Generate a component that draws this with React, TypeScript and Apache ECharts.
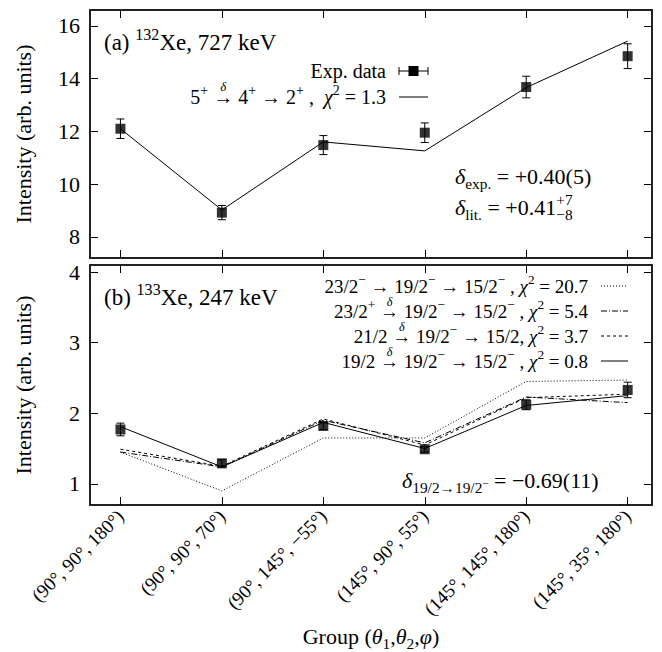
import React, { useEffect, useRef } from 'react';
import * as echarts from 'echarts';

// ---------- data ----------
const groups = ['(90°, 90°, 180°)', '(90°, 90°, 70°)', '(90°, 145°, −55°)', '(145°, 90°, 55°)', '(145°, 145°, 180°)', '(145°, 35°, 180°)'];
const groupIdx = [0, 1, 2, 3, 4, 5];

const xe132Exp = [12.1, 8.92, 11.48, 11.95, 13.68, 14.85];
const xe132Err = [0.37, 0.27, 0.36, 0.37, 0.41, 0.47];
const xe132Fit = [12.1, 9.02, 11.6, 11.26, 13.66, 15.42];

const xe133Exp = [1.77, 1.29, 1.82, 1.49, 2.12, 2.33];
const xe133Err = [0.09, 0.05, 0.05, 0.04, 0.07, 0.11];
const fit207 = [1.45, 0.9, 1.65, 1.65, 2.45, 2.47];
const fit54 = [1.45, 1.24, 1.9, 1.58, 2.23, 2.15];
const fit37 = [1.49, 1.25, 1.92, 1.55, 2.22, 2.27];
const fit08 = [1.81, 1.24, 1.87, 1.5, 2.11, 2.25];
const chi2Bottom = ['20.7', '5.4', '3.7', '0.8'];
const chi2Top = '1.3';

const ticksTop = [8, 10, 12, 14, 16];
const ticksBottom = [1, 2, 3, 4];

const FF = 'Liberation Serif';

// ---------- text helpers ----------
const NB = (s: string) => s.replace(/ /g, '\u00a0');
let _ctx: CanvasRenderingContext2D | null = null;
function tw(t: string, size: number, italic: boolean) {
  if (!_ctx) _ctx = document.createElement('canvas').getContext('2d');
  _ctx!.font = `${italic ? 'italic ' : ''}${size}px Liberation Serif`;
  return _ctx!.measureText(NB(t)).width;
}
type Seg = { t?: string; s?: number; it?: boolean; r?: number; delta?: boolean; stack?: [string, string] };
const n = (t: string): Seg => ({ t });
const it = (t: string): Seg => ({ t, it: true });
const sup = (t: string): Seg => ({ t, s: 0.7, r: 0.42 });
const sub = (t: string): Seg => ({ t, s: 0.7, r: -0.25 });
const arrD: Seg = { t: '→', delta: true };
const arr: Seg = { t: '→' };

function txt(t: string, x: number, y: number, size: number, italic: boolean, align = 'left') {
  return {
    type: 'text', x, y, silent: true,
    style: { text: NB(t), fontSize: size, fontFamily: FF, fontStyle: italic ? 'italic' : 'normal', fill: '#000', textAlign: align, textVerticalAlign: 'middle' },
  };
}
function richLine(segs: Seg[], x: number, cy: number, base: number, align: 'left' | 'right' | 'center') {
  const baseline = cy + 0.34 * base;
  const items = segs.map((sg) => {
    const size = base * (sg.s ?? 1);
    const w = sg.stack ? Math.max(tw(sg.stack[0], size, false), tw(sg.stack[1], size, false)) : tw(sg.t!, size, !!sg.it);
    return { ...sg, size, w };
  });
  const total = items.reduce((a, b) => a + b.w, 0);
  let cur = align === 'right' ? x - total : align === 'center' ? x - total / 2 : x;
  const els: any[] = [];
  for (const item of items) {
    if (item.stack) {
      els.push(txt(item.stack[0], cur, baseline - 0.45 * base - 0.34 * item.size, item.size, false));
      els.push(txt(item.stack[1], cur, baseline + 0.25 * base - 0.34 * item.size, item.size, false));
    } else {
      const yc = baseline - (item.r ?? 0) * base - 0.34 * item.size;
      els.push(txt(item.t!, cur, yc, item.size, !!item.it));
      if (item.delta) els.push(txt('δ', cur + item.w / 2, baseline - 0.84 * base, base * 0.64, true, 'center'));
    }
    cur += item.w;
  }
  return els;
}
function hline(x1: number, x2: number, y: number, dash?: number[]) {
  return { type: 'line', silent: true, shape: { x1, y1: y, x2, y2: y }, style: { stroke: '#000', lineWidth: 1, lineDash: dash } };
}

// ---------- layout ----------
const GL = 90, GR = 662 - 652;
const G1 = { top: 10, h: 248 };
const G2 = { top: 265, h: 240 };
const XMIN = -0.3, XMAX = 5.24;
const AX = { color: '#222', width: 2 };

function xAxis(grid: number, pos: 'top' | 'bottom', labels: boolean) {
  return {
    type: 'value', gridIndex: grid, position: pos, min: XMIN, max: XMAX,
    axisLine: { show: true, onZero: false, lineStyle: AX },
    axisTick: { show: true, inside: true, length: 8, customValues: groupIdx, lineStyle: { color: '#000', width: 1 } },
    axisLabel: labels
      ? { show: true, customValues: groupIdx, formatter: (v: number) => groups[Math.round(v)], rotate: 45, fontSize: 19, fontFamily: FF, color: '#000', margin: 8 }
      : { show: false },
    splitLine: { show: false },
  };
}
function yAxis(grid: number, pos: 'left' | 'right', min: number, max: number, ticks: number[], labels: boolean) {
  return {
    type: 'value', gridIndex: grid, position: pos, min, max,
    axisLine: { show: true, onZero: false, lineStyle: AX },
    axisTick: { show: true, inside: true, length: 8, customValues: ticks, lineStyle: { color: '#000', width: 1 } },
    axisLabel: labels ? { show: true, customValues: ticks, fontSize: 22, fontFamily: FF, color: '#000', margin: 10 } : { show: false },
    splitLine: { show: false },
  };
}

function errRender(params: any, api: any) {
  const x = api.value(0), y = api.value(1), e = api.value(2);
  const t = api.coord([x, y + e]);
  const b = api.coord([x, y - e]);
  const c = 4;
  const st = { stroke: '#000', lineWidth: 1 };
  return {
    type: 'group',
    children: [
      { type: 'line', shape: { x1: t[0], y1: t[1], x2: b[0], y2: b[1] }, style: st },
      { type: 'line', shape: { x1: t[0] - c, y1: t[1], x2: t[0] + c, y2: t[1] }, style: st },
      { type: 'line', shape: { x1: b[0] - c, y1: b[1], x2: b[0] + c, y2: b[1] }, style: st },
    ],
  };
}
const pts = (arrY: number[]) => groupIdx.map((i) => [i, arrY[i]]);
const errPts = (v: number[], e: number[]) => groupIdx.map((i) => [i, v[i], e[i]]);
function fitLine(grid: number, data: number[], type: any, name: string) {
  return {
    name, type: 'line', xAxisIndex: grid * 2, yAxisIndex: grid * 2, data: pts(data), symbol: 'none', showSymbol: false,
    lineStyle: { color: '#000', width: 1, type }, z: 2, silent: true,
  };
}

export default function App() {
  const ref = useRef<HTMLDivElement>(null);
  useEffect(() => {
    document.body.style.margin = '0';
    const chart = echarts.init(ref.current!, undefined, { renderer: 'svg' });

    const L = 20;
    const LB = 19;
    const LR = 588, SX1 = 601, SX2 = 628;
    const graphics: any[] = [
      // panel labels
      ...richLine([n('(a) '), sup('132'), n('Xe, 727 keV')], 104, 42, 23, 'left'),
      ...richLine([n('(b) '), sup('133'), n('Xe, 247 keV')], 104, 297, 23, 'left'),
      // top legend
      ...richLine([n('Exp. data')], 386, 71, L, 'right'),
      hline(399, 428, 71),
      { type: 'line', silent: true, shape: { x1: 399, y1: 67, x2: 399, y2: 75 }, style: { stroke: '#000', lineWidth: 1 } },
      { type: 'line', silent: true, shape: { x1: 428, y1: 67, x2: 428, y2: 75 }, style: { stroke: '#000', lineWidth: 1 } },
      { type: 'rect', silent: true, shape: { x: 408.5, y: 66, width: 10, height: 10 }, style: { fill: '#000' } },
      ...richLine([n('5'), sup('+'), n(' '), arrD, n(' 4'), sup('+'), n(' '), arr, n(' 2'), sup('+'), n(' ,  '), it('χ'), sup('2'), n(' = ' + chi2Top)], 386, 97, L, 'right'),
      hline(399, 428, 97),
      // top annotation
      ...richLine([it('δ'), sub('exp.'), n(' = +0.40(5)')], 455, 176, 22, 'left'),
      ...richLine([it('δ'), sub('lit.'), n(' = +0.41'), { stack: ['+7', '−8'], s: 0.7 }], 455, 207, 22, 'left'),
      // bottom legend
      ...richLine([n('23/2'), sup('−'), n(' '), arr, n(' 19/2'), sup('−'), n(' '), arr, n(' 15/2'), sup('−'), n(' , '), it('χ'), sup('2'), n(' = ' + chi2Bottom[0])], LR, 286, LB, 'right'),
      hline(SX1, SX2, 286, [1, 2]),
      ...richLine([n('23/2'), sup('+'), n(' '), arrD, n(' 19/2'), sup('−'), n(' '), arr, n(' 15/2'), sup('−'), n(' , '), it('χ'), sup('2'), n(' = ' + chi2Bottom[1])], LR, 311, LB, 'right'),
      hline(SX1, SX2, 311, [6, 2, 1, 2]),
      ...richLine([n('21/2 '), arrD, n(' 19/2'), sup('−'), n(' '), arr, n(' 15/2, '), it('χ'), sup('2'), n(' = ' + chi2Bottom[2])], LR, 336, LB, 'right'),
      hline(SX1, SX2, 336, [3, 3]),
      ...richLine([n('19/2 '), arrD, n(' 19/2'), sup('−'), n(' '), arr, n(' 15/2'), sup('−'), n(' , '), it('χ'), sup('2'), n(' = ' + chi2Bottom[3])], LR, 361, LB, 'right'),
      hline(SX1, SX2, 361),
      // bottom annotation
      ...richLine([it('δ'), sub('19/2→19/2'), { t: '−', s: 0.5, r: 0.05 }, n(' = −0.69(11)')], 402, 480, 22, 'left'),
      // axis titles
      ...richLine([n('Group ('), it('θ'), sub('1'), n(','), it('θ'), sub('2'), n(','), it('φ'), n(')')], 371, 636, 22, 'center'),
      { type: 'text', x: 23, y: G1.top + G1.h / 2, rotation: Math.PI / 2, silent: true, style: { text: 'Intensity (arb. units)', fontSize: 22, fontFamily: FF, fill: '#000', textAlign: 'center', textVerticalAlign: 'middle' } },
      { type: 'text', x: 23, y: G2.top + G2.h / 2, rotation: Math.PI / 2, silent: true, style: { text: 'Intensity (arb. units)', fontSize: 22, fontFamily: FF, fill: '#000', textAlign: 'center', textVerticalAlign: 'middle' } },
    ];

    chart.setOption({
      animation: false,
      textStyle: { fontFamily: FF },
      grid: [
        { left: GL, right: GR, top: G1.top, height: G1.h },
        { left: GL, right: GR, top: G2.top, height: G2.h },
      ],
      xAxis: [xAxis(0, 'bottom', false), xAxis(0, 'top', false), xAxis(1, 'bottom', true), xAxis(1, 'top', false)],
      yAxis: [
        yAxis(0, 'left', 7.2, 16.6, ticksTop, true), yAxis(0, 'right', 7.2, 16.6, ticksTop, false),
        yAxis(1, 'left', 0.7, 4.1, ticksBottom, true), yAxis(1, 'right', 0.7, 4.1, ticksBottom, false),
      ],
      series: [
        fitLine(0, xe132Fit, 'solid', 'fit132'),
        { type: 'custom', xAxisIndex: 0, yAxisIndex: 0, renderItem: errRender, data: errPts(xe132Exp, xe132Err), z: 3, silent: true },
        { type: 'scatter', xAxisIndex: 0, yAxisIndex: 0, data: pts(xe132Exp), symbol: 'rect', symbolSize: 10, itemStyle: { color: '#000' }, z: 4, silent: true },
        fitLine(1, fit207, [1, 2], 'f207'),
        fitLine(1, fit54, [6, 2, 1, 2], 'f54'),
        fitLine(1, fit37, [3, 3], 'f37'),
        fitLine(1, fit08, 'solid', 'f08'),
        { type: 'custom', xAxisIndex: 2, yAxisIndex: 2, renderItem: errRender, data: errPts(xe133Exp, xe133Err), z: 3, silent: true },
        { type: 'scatter', xAxisIndex: 2, yAxisIndex: 2, data: pts(xe133Exp), symbol: 'rect', symbolSize: 10, itemStyle: { color: '#000' }, z: 4, silent: true },
      ],
      graphic: graphics,
    });
    return () => chart.dispose();
  }, []);
  return <div ref={ref} style={{ width: 662, height: 652 }} />;
}
